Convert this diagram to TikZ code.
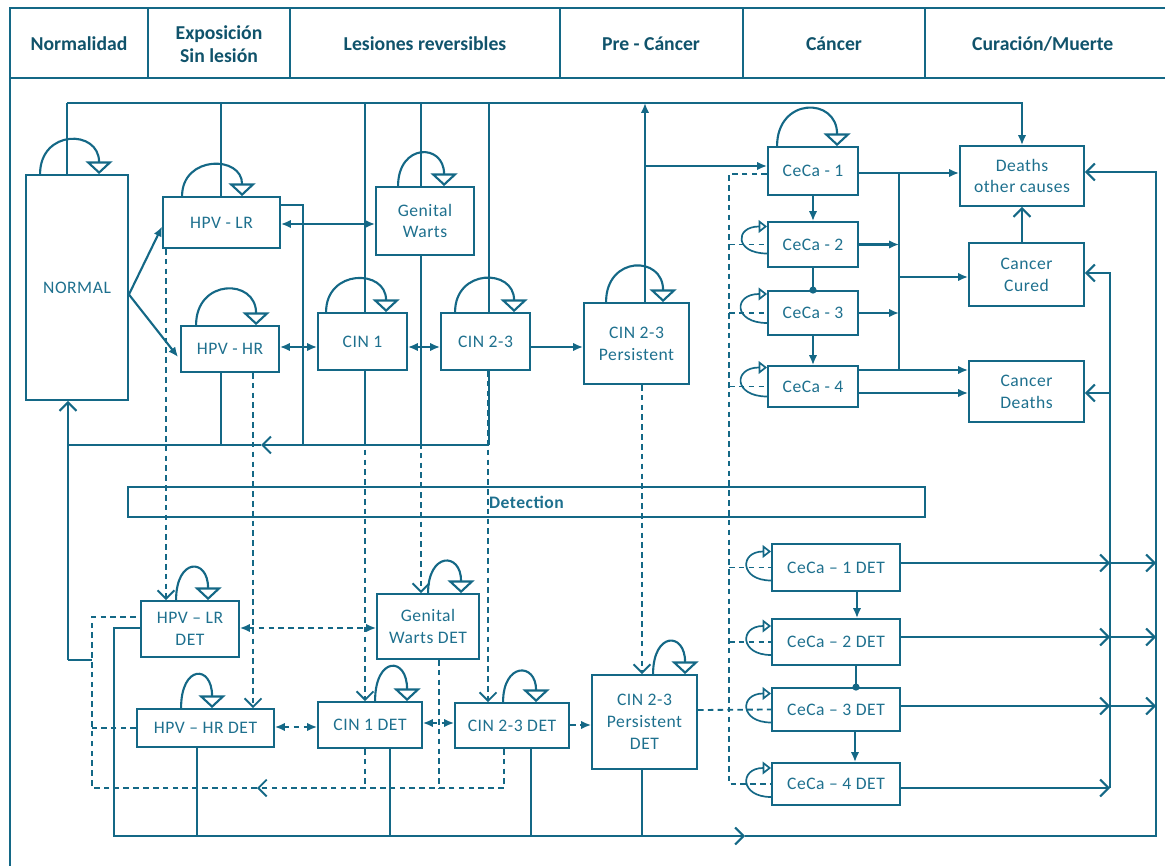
\documentclass[tikz,border=0pt]{standalone}
\usepackage{fontspec}
\setmainfont{Carlito}
\usetikzlibrary{arrows.meta,calc}
\definecolor{mblue}{RGB}{20,104,134}
\definecolor{tblue}{RGB}{30,112,142}
\newcommand{\boxfont}{\fontsize{12.5}{15.5}\selectfont\addfontfeature{LetterSpace=3}}
\newcommand{\headfont}{\fontsize{14}{16}\selectfont\bfseries}
\tikzset{
  ln/.style={draw=mblue, line width=1.5pt},
  box/.style={ln, line width=1.3pt, align=center, inner sep=1pt, text=tblue, font=\boxfont},
  head/.style={align=center, text=mblue!80!black, font=\headfont},
  dsh/.style={ln, line width=1.3pt, dash pattern=on 4pt off 3pt},
  arr/.style={ln, -{Latex[length=7pt,width=6pt]}},
  dot/.style={ln, -{Circle[length=5pt]}, shorten >=-2.5pt},
  dbl/.style={ln, {Latex[length=7pt,width=6pt]}-{Latex[length=7pt,width=6pt]}},
  barb/.style={ln, -{Straight Barb[length=6pt,width=12pt]}},
  dbarb/.style={dsh, -{Straight Barb[length=6pt,width=12pt]}},
  darr/.style={dsh, -{Latex[length=7pt,width=6pt]}},
  ddbl/.style={dsh, {Latex[length=7pt,width=6pt]}-{Latex[length=7pt,width=6pt]}},
  selfloop/.style={ln, -{Triangle[open,length=9pt,width=19pt]}},
  sideloop/.style={ln, line width=1.2pt, -{Triangle[open,length=6pt,width=9pt]}},
}
\begin{document}
\begin{tikzpicture}[x=0.025cm, y=-0.025cm]
    \useasboundingbox (0,0) rectangle (1165,866);

    % Cabecera
    \draw[ln] (1165,8) -- (10,8) -- (10,866);
    \draw[ln] (10,78) -- (1165,78);
    \foreach \x in {148,290,560,743,925}
        \draw[ln] (\x,8) -- (\x,78);
    \foreach \x/\txt [count=\i] in {
        79/Normalidad,
        219/{Exposición\\Sin lesión},
        425/Lesiones reversibles,
        651/Pre - Cáncer,
        834/Cáncer,
        1045/{Curación/Muerte}
        } {
        \node[head] (h\i) at (\x,44) {\txt};
    }

    % Estados
    \node[box, minimum width=2.55cm, minimum height=5.625cm] (norm) at (77,287.5) {NORMAL};
    \node[box, minimum width=2.925cm, minimum height=1.275cm] (lr) at (221.5,222.5) {HPV - LR};
    \node[box, minimum width=2.45cm, minimum height=1.15cm] (hr) at (230,349) {HPV - HR};
    \node[box, minimum width=2.45cm, minimum height=1.7cm] (gw) at (425,221) {Genital\\Warts};
    \node[box, minimum width=2.225cm, minimum height=1.425cm] (cin1) at (362.5,341.5) {CIN 1};
    \node[box, minimum width=2.225cm, minimum height=1.425cm] (cin23) at (485.5,341.5) {CIN 2-3};
    \node[box, minimum width=2.625cm, minimum height=2.025cm] (pers) at (636.5,343.5) {CIN 2-3\\Persistent};
    \foreach \n/\y/\h [count=\i] in {c1/171/1.2, c2/244.5/1.125, c3/313/1.1, c4/386.5/1.025}
        \node[box, minimum width=2.25cm, minimum height=\h cm] (\n) at (813,\y) {CeCa - \i};
    \node[box, minimum width=3.1cm, minimum height=1.5cm] (doc) at (1022,176) {Deaths\\other causes};
    \node[box, minimum width=2.875cm, minimum height=1.575cm] (cured) at (1026.5,274.5) {Cancer\\Cured};
    \node[box, minimum width=2.875cm, minimum height=1.525cm] (cdeath) at (1026.5,391.5) {Cancer\\Deaths};
    \node[box, minimum width=19.925cm, minimum height=0.75cm, font=\boxfont\bfseries] (det) at (526.5,502) {Detection};

    % Estados detectados
    \node[box, minimum width=2.45cm, minimum height=1.4cm] (lrd) at (190,629) {HPV -- LR\\DET};
    \node[box, minimum width=3.425cm, minimum height=0.95cm] (hrd) at (205.5,728) {HPV -- HR DET};
    \node[box, minimum width=2.55cm, minimum height=1.625cm] (gwd) at (428,626.5) {Genital\\Warts DET};
    \node[box, minimum width=2.6cm, minimum height=1.15cm] (cin1d) at (370,725) {CIN 1 DET};
    \node[box, minimum width=2.85cm, minimum height=1.125cm] (cin23d) at (512,725.5) {CIN 2-3 DET};
    \node[box, minimum width=2.625cm, minimum height=2.35cm] (persd) at (644.5,722) {CIN 2-3\\Persistent\\DET};
    \foreach \n/\y/\h [count=\i] in {c1d/567.5/1.175, c2d/642/1.15, c3d/709.5/1.075, c4d/784/1.05}
        \node[box, minimum width=3.2cm, minimum height=\h cm] (\n) at (836,\y) {CeCa -- \i{} DET};

    % Bucles
    \foreach \n/\a/\b/\l in {norm/15/74/1.95, lr/20/80/1.75, hr/16/76/2.0, gw/23/69/2.4,
        cin1/9/69/1.85, cin23/15/74/1.9, pers/23/80/2.1, c1/10/70/2.1,
        lrd/36/68/3.4, hrd/45/76/3.6, gwd/52/85/3.2, cin1d/58/90/3.6, cin23d/49/82/3.1, persd/62/94/3.4}
        \draw[selfloop] ($(\n.north west)+(\a,0)$) to[out=90,in=90,looseness=\l] ($(\n.north west)+(\b,0)$);
    \foreach \n/\a/\b/\l in {c2/9/-18/3.1, c3/10/-19/3.0, c4/10/-19/3.0,
        c1d/13/-16/2.8, c2d/13/-16/2.8, c3d/13/-16/2.8, c4d/13/-16/2.8}
        \draw[sideloop] ($(\n.west)+(0,\a)$) to[out=180,in=180,looseness=\l] ($(\n.west)+(0,\b)$);

    % Bus superior
    \coordinate (tbL) at (67,103);
    \coordinate (tbR) at (doc.north |- 0,103);
    \draw[arr] (tbL) -- (tbR) -- (doc.north);
    \foreach \n/\x in {norm/67, lr/221, cin1/365, gw/421, cin23/489}
        \draw[ln] (\n.north -| \x,0) -- (\x,103);
    \draw[arr] (pers.north -| 645,0) -- (645,103);
    \draw[arr] (645,166) -- (c1.west |- 0,166);

    % Transiciones
    \draw[arr] ($(norm.east)+(0,7)$) -- ($(lr.west)+(0,4)$);
    \draw[arr] ($(norm.east)+(0,7)$) -- ($(hr.west)+(-2,8)$);
    \draw[dbl] (lr.east |- 0,224) -- (gw.west |- 0,224);
    \draw[dbl] (hr.east |- 0,347) -- (cin1.west |- 0,347);
    \draw[dbl] (cin1.east |- 0,347) -- (cin23.west |- 0,347);
    \draw[arr] (cin23.east |- 0,347) -- (pers.west |- 0,347);

    % Regreso a normal
    \draw[ln] (lr.east |- 0,205) -- (303,205) -- (303,445);
    \foreach \n/\x in {hr/221, cin1/365, gw/421, cin23/489}
        \draw[ln] (\n.south -| \x,0) -- (\x,445);
    \draw[barb] (489,445) -- (261,445);
    \draw[ln] (261,445) -- (68,445);
    \draw[ln] (68,660) -- (92,660);
    \draw[barb] (68,660) -- (norm.south -| 68,0);

    % Cancer
    \draw[arr] (c1.south) -- (c2.north);
    \draw[dot] (c2.south) -- (c3.north);
    \draw[arr] (c3.south) -- (c4.north);
    \draw[arr] (c1.east |- 0,173) -- (doc.west |- 0,173);
    \draw[ln] (899,173) -- (899,370);
    \draw[arr] (899,277) -- (cured.west |- 0,277);
    \draw[arr] (c2.east) -- (c2.east -| 899,0);
    \draw[arr] (c3.east) -- (c3.east -| 899,0);
    \draw[arr] (c4.east |- 0,370) -- (cdeath.west |- 0,370);
    \draw[arr] (c4.east |- 0,393) -- (cdeath.west |- 0,393);
    \draw[barb] (doc.south |- cured.north) -- (doc.south);
    \draw[barb] (1110,788) -- (1110,273) -- (cured.east |- 0,273);
    \draw[barb] (1110,393) -- (cdeath.east |- 0,393);

    % Deteccion
    \foreach \a/\b/\x in {lr/lrd/166, hr/hrd/253, cin1/cin1d/365, gw/gwd/421, cin23/cin23d/488, pers/persd/642}
        \draw[dbarb] (\a.south -| \x,0) -- (\b.north -| \x,0);
    \draw[dsh] (c1.west |- 0,174) -- (729,174) -- (729,784) -- (c4d.west);
    \foreach \n in {c2,c3,c4,c1d,c2d}
        \draw[dsh] (\n.west -| 729,0) -- (\n.west);
    \draw[dsh] (persd.east |- 0,710) -- (c3d.west);

    \draw[ddbl] (lrd.east |- 0,628) -- (gwd.west |- 0,628);
    \draw[ddbl] (hrd.east |- 0,727) -- (cin1d.west |- 0,727);
    \draw[ddbl] (cin1d.east |- 0,723) -- (cin23d.west |- 0,723);
    \draw[darr] (cin23d.east |- 0,725) -- (persd.west |- 0,725);
    \draw[dbarb] (cin23d.south -| 504,0) -- (504,788) -- (257,788);
    \draw[dsh] (257,788) -- (92,788) -- (92,617) -- (lrd.west |- 0,617);
    \draw[dsh] (hrd.west) -- (hrd.west -| 92,0);
    \draw[dsh] (cin1d.south -| 365,0) -- (365,788);
    \draw[dsh] (gwd.south -| 439,0) -- (439,788);

    % Salidas detectados
    \draw[barb] (lrd.west |- 0,628) -- (114,628) -- (114,836) -- (745,836);
    \draw[barb] (745,836) -- (1156,836) -- (1156,172) -- (doc.east |- 0,172);
    \foreach \n/\x in {hrd/197, cin1d/390, cin23d/531, persd/642}
        \draw[ln] (\n.south -| \x,0) -- (\x,836);
    \draw[arr] (c1d.south -| 857,0) -- (c2d.north -| 857,0);
    \draw[dot] (c2d.south -| 856,0) -- (c3d.north -| 856,0);
    \draw[arr] (c3d.south -| 855,0) -- (c4d.north -| 855,0);
    \foreach \n/\y in {c1d/563, c2d/637, c3d/706} {
        \draw[barb] (\n.east |- 0,\y) -- (1110,\y);
        \draw[barb] (1110,\y) -- (1156,\y);
    }
    \draw[barb] (c4d.east |- 0,788) -- (1110,788);
\end{tikzpicture}
\end{document}
